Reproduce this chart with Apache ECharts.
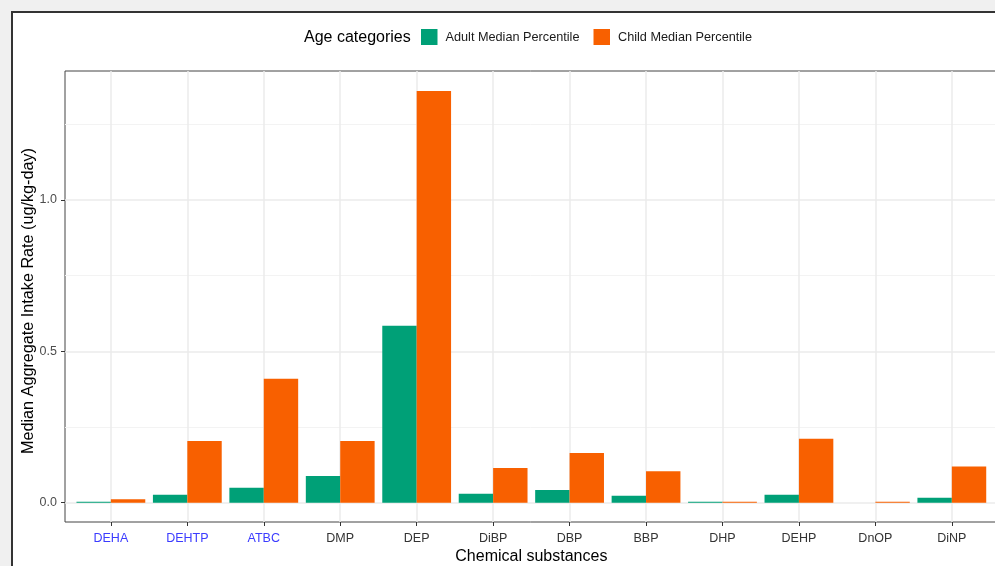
<!DOCTYPE html>
<html>
<head>
<meta charset="utf-8">
<script src="https://cdn.jsdelivr.net/npm/echarts@6/dist/echarts.min.js"></script>
<style>
html,body{margin:0;padding:0;background:#f0f0f0;}
#chart{width:995px;height:566px;}
</style>
</head>
<body>
<div id="chart"></div>
<script>
const categories = ['DEHA','DEHTP','ATBC','DMP','DEP','DiBP','DBP','BBP','DHP','DEHP','DnOP','DiNP'];
const blueLabels = ['DEHA','DEHTP','ATBC'];
const adultValues = [0.003, 0.026, 0.049, 0.088, 0.584, 0.029, 0.042, 0.023, 0.003, 0.026, 0, 0.016];
const childValues = [0.011, 0.204, 0.409, 0.204, 1.360, 0.114, 0.164, 0.104, 0.003, 0.211, 0.003, 0.119];
const yMajorTicks = [0, 0.5, 1.0];
const yMinorTicks = [0.25, 0.75, 1.25];
const seriesNames = ['Adult Median Percentile', 'Child Median Percentile'];
const legendTitle = 'Age categories';

const FONT = '"Liberation Sans", Arial, sans-serif';
const catIdx = categories.map((c, i) => i);

const chart = echarts.init(document.getElementById('chart'), null, {renderer: 'canvas'});
const option = {
  backgroundColor: '#f0f0f0',
  animation: false,
  textStyle: {fontFamily: FONT},
  graphic: [{
    type: 'rect', z: -10, silent: true,
    shape: {x: 12, y: 12, width: 1010, height: 600},
    style: {fill: '#ffffff', stroke: '#333333', lineWidth: 2}
  }],
  title: {
    text: legendTitle, left: 304, top: 29, padding: 0,
    textStyle: {fontFamily: FONT, fontSize: 16, fontWeight: 'normal', color: '#000', lineHeight: 18}
  },
  legend: {
    left: 421, top: 29, padding: 0,
    itemWidth: 16.5, itemHeight: 16, itemGap: 14,
    icon: 'rect',
    data: seriesNames,
    textStyle: {fontFamily: FONT, fontSize: 12.7, color: '#1a1a1a', padding: [0, 0, 0, 3]}
  },
  grid: {
    left: 65, top: 71, width: 932.7, height: 451,
    outerBoundsMode: 'none', containLabel: false,
    show: true, borderColor: '#444', borderWidth: 1, backgroundColor: 'transparent'
  },
  xAxis: {
    type: 'value', min: -0.6, max: 11.6,
    name: 'Chemical substances', nameLocation: 'middle', nameGap: 27, nameMoveOverlap: false,
    nameTextStyle: {fontFamily: FONT, fontSize: 16, color: '#000'},
    axisLine: {show: false, onZero: false},
    axisTick: {show: true, length: 4, customValues: catIdx, lineStyle: {color: '#333', width: 1}},
    axisLabel: {
      customValues: catIdx, margin: 10.5,
      fontFamily: FONT, fontSize: 12.5, color: '#333',
      formatter: v => {
        const name = categories[Math.round(v)];
        return blueLabels.indexOf(name) >= 0 ? '{b|' + name + '}' : '{k|' + name + '}';
      },
      rich: {
        b: {color: '#3b3bff', fontFamily: FONT, fontSize: 12.5},
        k: {color: '#333333', fontFamily: FONT, fontSize: 12.5}
      }
    },
    splitLine: {show: true, lineStyle: {color: '#ebebeb', width: 1.5}}
  },
  yAxis: [{
    type: 'value', min: -0.064, max: 1.426,
    name: 'Median Aggregate Intake Rate (ug/kg-day)', nameLocation: 'middle', nameGap: 28, nameMoveOverlap: false,
    nameTextStyle: {fontFamily: FONT, fontSize: 16.2, color: '#000', padding: [0, 9, 0, 0]},
    axisLine: {show: false, onZero: false},
    axisTick: {show: true, length: 4, customValues: yMajorTicks, lineStyle: {color: '#333', width: 1}},
    axisLabel: {customValues: yMajorTicks, margin: 8, fontFamily: FONT, fontSize: 12.5, color: '#4d4d4d',
      formatter: v => v.toFixed(1)},
    splitLine: {show: true, lineStyle: {color: '#ebebeb', width: 1.5}}
  }, {
    type: 'value', min: -0.064, max: 1.426,
    axisLine: {show: false, onZero: false},
    axisTick: {show: false, customValues: yMinorTicks},
    axisLabel: {show: false, customValues: yMinorTicks},
    splitLine: {show: true, lineStyle: {color: '#f3f3f3', width: 1}}
  }],
  series: [{
    name: seriesNames[0], type: 'bar', yAxisIndex: 0,
    barWidth: 34.4, barGap: '0%',
    itemStyle: {color: '#00a077'},
    data: adultValues.map((v, i) => [i, v])
  }, {
    name: seriesNames[1], type: 'bar', yAxisIndex: 0,
    barWidth: 34.4, barGap: '0%',
    itemStyle: {color: '#f86000'},
    data: childValues.map((v, i) => [i, v])
  }]
};
chart.setOption(option);
</script>
</body>
</html>
